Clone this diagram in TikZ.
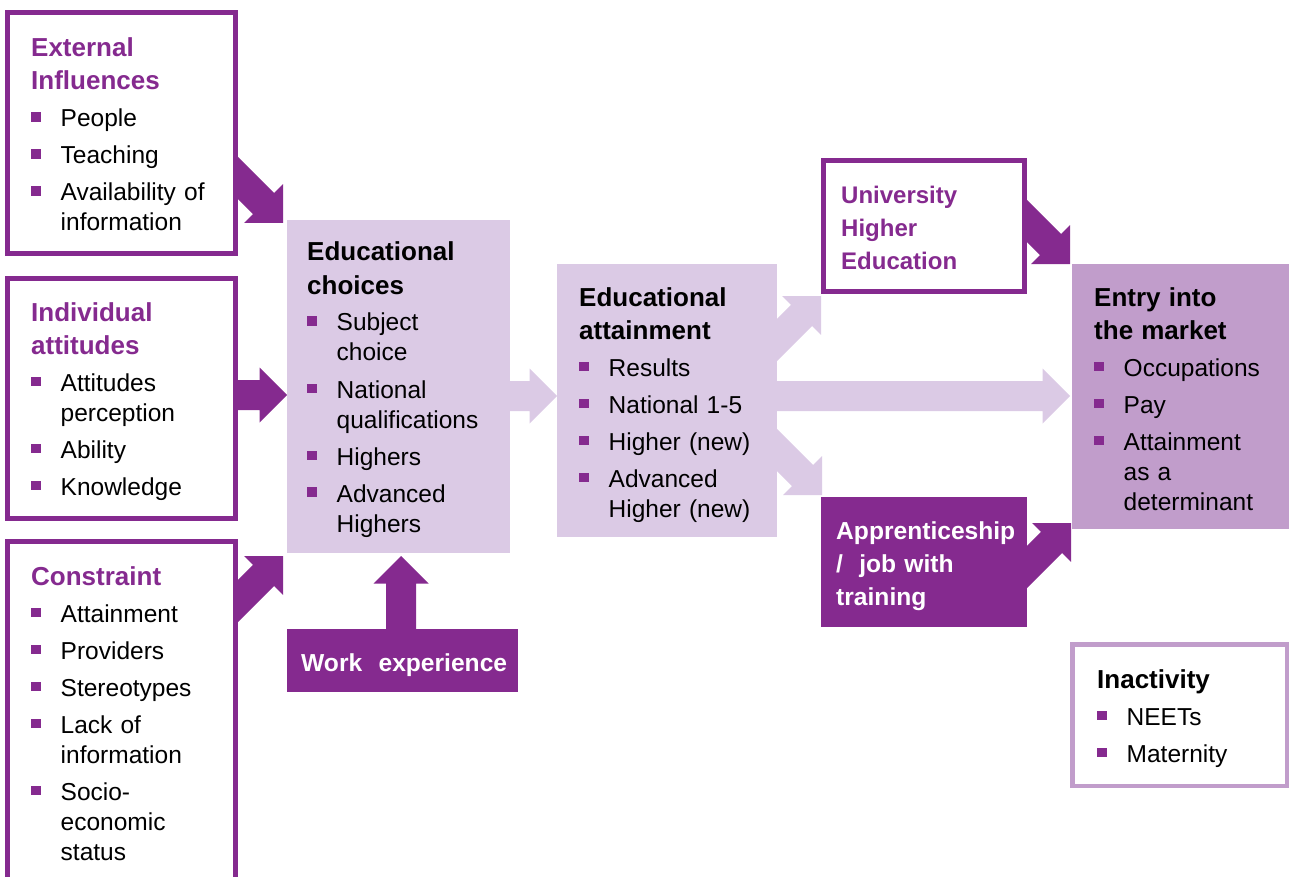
\documentclass[tikz,border=0pt]{standalone}
\usepackage{fontspec}
\setmainfont{Liberation Sans}
\usetikzlibrary{calc}
\definecolor{pp}{HTML}{852A8F}
\definecolor{lav}{HTML}{DBCAE5}
\definecolor{lil}{HTML}{C19DCB}
\newcommand\bsq{\raisebox{5pt}{\textcolor{pp}{\rule{9.5pt}{9.5pt}}}}
\newcommand\bitem[1]{\par\vspace{7pt}\noindent\hangindent=29.5pt\hangafter=1\makebox[29.5pt][l]{\bsq}#1\par}
\newcommand\ttlsize{26}
\newcommand\ttl[2][black]{\noindent{\color{#1}\fontsize{\ttlsize}{33}\selectfont\bfseries #2\par}}
\newcommand\fatarrow[4]{%
  \fill[#1, shift={(#2)}, rotate=#3] (0,0) -- (-27.5,27.5) -- (-27.5,15) -- (-#4,15) -- (-#4,-15) -- (-27.5,-15) -- (-27.5,-27.5) -- cycle;}
\begin{document}
\begin{tikzpicture}[x=1pt,y=-1pt,
  obox/.style={draw=pp, line width=5pt, fill=white, rectangle, inner sep=0pt},
  fbox/.style={fill=#1, draw=none, rectangle, inner sep=0pt, outer sep=0pt},
  txt/.style={anchor=base west, inner sep=0pt, text width=260pt, font=\fontsize{24.5}{30}\selectfont}]
\useasboundingbox (0,0) rectangle (1289,877);
\clip (0,0) rectangle (1289,877);
% box centres
\path
  coordinate (c-ext) at (121.5,133)
  coordinate (c-att) at (121.5,398.5)
  coordinate (c-con) at (121.5,720.75)
  coordinate (c-cho) at (398.5,386.5)
  coordinate (c-work) at (402.5,660.5)
  coordinate (c-ea) at (667,400.5)
  coordinate (c-uni) at (924,226)
  coordinate (c-app) at (924,562)
  coordinate (c-entry) at (1183.5,396.5)
  coordinate (c-inact) at (1179.5,715);
% invisible placeholders to get anchors for arrows
\path
  node[fbox=none, minimum width=223pt, minimum height=333pt] (cho0) at (c-cho) {}
  node[fbox=none, minimum width=220pt, minimum height=273pt] (ea0) at (c-ea) {}
  node[fbox=none, minimum width=206pt, minimum height=130pt] (app0) at (c-app) {}
  node[fbox=none, minimum width=223pt, minimum height=265pt] (entry0) at (c-entry) {}
  node[fbox=none, minimum width=206pt, minimum height=136pt] (uni0) at (c-uni) {};
% arrows
\fatarrow{pp}{$(cho0.north west)+(-4,3)$}{-45}{90}
\fatarrow{pp}{$(cho0.north west)+(0,175)$}{0}{62}
\fatarrow{pp}{$(cho0.south west)+(-4,3)$}{45}{90}
\fatarrow{pp}{$(cho0.south west)+(114,3)$}{90}{79}
\fatarrow{lav}{$(ea0.north west)+(0,132)$}{0}{57}
\fatarrow{lav}{$(uni0.south west)+(0,2)$}{45}{85}
\fatarrow{lav}{$(app0.north west)+(1,-2)$}{-45}{85}
\fatarrow{lav}{$(entry0.north west)+(-2,132)$}{0}{300}
\fatarrow{pp}{$(entry0.north west)+(-2,0)$}{-45}{85}
\fatarrow{pp}{$(entry0.south west)+(-1,-6)$}{45}{85}
% boxes
\node[obox, minimum width=228pt, minimum height=241pt] (ext) at (c-ext) {};
\node[obox, minimum width=228pt, minimum height=240pt] (att) at (c-att) {};
\node[obox, minimum width=228pt, minimum height=358.5pt] (con) at (c-con) {};
\node[fbox=lav, minimum width=223pt, minimum height=333pt] (cho) at (c-cho) {};
\node[fbox=pp, minimum width=231pt, minimum height=63pt] (work) at (c-work) {};
\node[fbox=lav, minimum width=220pt, minimum height=273pt] (ea) at (c-ea) {};
\node[obox, minimum width=201pt, minimum height=131pt] (uni) at (c-uni) {};
\node[fbox=pp, minimum width=206pt, minimum height=130pt] (app) at (c-app) {};
\node[fbox=lil, minimum width=223pt, minimum height=265pt] (entry) at (c-entry) {};
\node[obox, draw=lil, line width=4.5pt, minimum width=214.5pt, minimum height=141.5pt] (inact) at (c-inact) {};
% texts
\node[txt] (t-ext) at ($(ext.north west)+(26,47)$)
  {\ttl[pp]{External\newline Influences}\bitem{People}\bitem{Teaching}\bitem{Availability of\newline information}};
\node[txt] (t-att) at ($(att.north west)+(26,45)$)
  {\ttl[pp]{Individual\newline attitudes}\bitem{Attitudes\newline perception}\bitem{Ability}\bitem{Knowledge}};
\node[txt] (t-con) at ($(con.north west)+(26,46)$)
  {\ttl[pp]{Constraint}\bitem{Attainment}\bitem{Providers}\bitem{Stereotypes}\bitem{Lack of\newline information}\bitem{Socio-\newline economic\newline status}};
\node[txt] (t-cho) at ($(cho.north west)+(20,41)$)
  {\ttl{Educational\newline choices}\bitem{Subject\newline choice}\bitem{National\newline qualifications}\bitem{Highers}\bitem{Advanced\newline Highers}};
\node[txt] (t-ea) at ($(ea.north west)+(22,42)$)
  {\ttl{Educational\newline attainment}\bitem{Results}\bitem{National 1-5}\bitem{Higher (new)}\bitem{Advanced\newline Higher (new)}};
\node[txt] (t-uni) at ($(uni.north west)+(20,46)$)
  {\renewcommand\ttlsize{24}\ttl[pp]{University\newline Higher\newline Education}};
\node[txt] (t-entry) at ($(entry.north west)+(22,42)$)
  {\ttl{Entry into\newline the market}\bitem{Occupations}\bitem{Pay}\bitem{Attainment\newline as a\newline determinant}};
\node[txt] (t-app) at ($(app.north west)+(15,42)$)
  {\renewcommand\ttlsize{24.6}\ttl[white]{Apprenticeship\newline /\ \ job with\newline training}};
\node[txt] (t-work) at ($(work.north west)+(14,42)$)
  {\renewcommand\ttlsize{24.6}\ttl[white]{Work\ \ experience}};
\node[txt] (t-inact) at ($(inact.north west)+(27,46)$)
  {\ttl{Inactivity}\bitem{NEETs}\bitem{Maternity}};
\end{tikzpicture}
\end{document}
